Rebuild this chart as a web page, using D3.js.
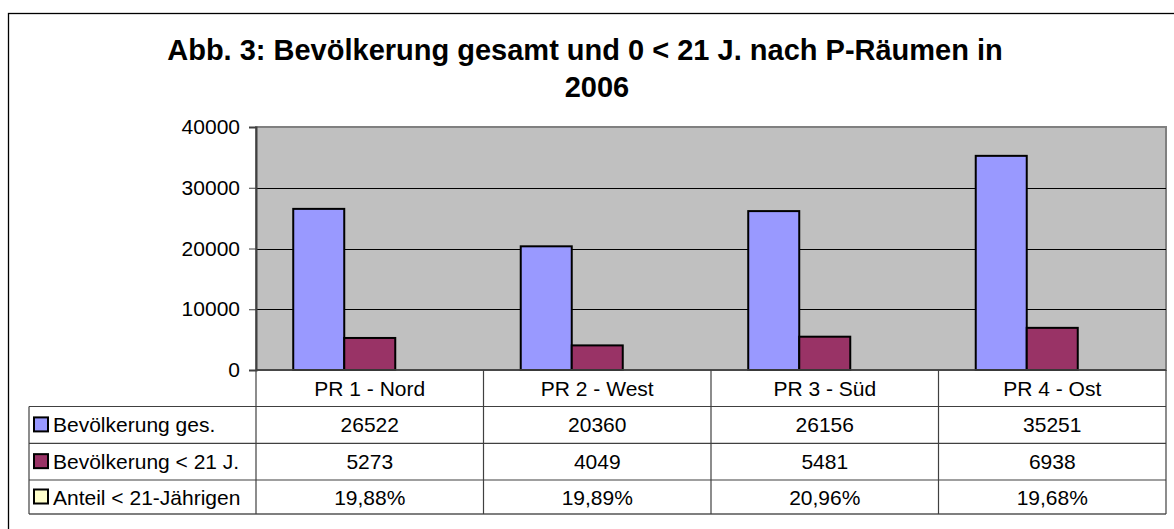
<!DOCTYPE html>
<html>
<head>
<meta charset="utf-8">
<script src="https://cdn.jsdelivr.net/npm/d3@7"></script>
<style>
  body { margin: 0; background: #fff; }
  text { font-family: "Liberation Sans", Arial, sans-serif; fill: #000; }
</style>
</head>
<body>
<div id="chart"></div>
<script>
// data
var categories = ["PR 1 - Nord", "PR 2 - West", "PR 3 - Süd", "PR 4 - Ost"];
var seriesNames = ["Bevölkerung ges.", "Bevölkerung < 21 J.", "Anteil < 21-Jährigen"];
var popTotal = [26522, 20360, 26156, 35251];
var popUnder21 = [5273, 4049, 5481, 6938];
var shareUnder21 = [0.1988, 0.1989, 0.2096, 0.1968];
var shareLabels = ["19,88%", "19,89%", "20,96%", "19,68%"];
var yTicks = [0, 10000, 20000, 30000, 40000];
var colors = ["#9999FF", "#993366", "#FFFFCC"];

var svgWidth = 1174;
var svgHeight = 529;

var plot = { left: 256, right: 1166, top: 127, bottom: 370 };
var tableLeft = 29;
var rowLines = [370, 406.5, 443.3, 480, 514];
var fontSize = "21px";

var svg = d3.select("#chart")
  .append("svg")
  .attr("width", svgWidth)
  .attr("height", svgHeight);

// outer chart frame (runs off the right and bottom)
svg.append("rect")
  .attr("x", 8.5).attr("y", 13.5)
  .attr("width", 1200).attr("height", 540)
  .attr("fill", "#fff")
  .attr("stroke", "#000")
  .attr("stroke-width", 1.3);

// title
svg.append("text")
  .attr("x", 585).attr("y", 60)
  .attr("text-anchor", "middle")
  .style("font-size", "29px").style("font-weight", "bold")
  .text("Abb. 3: Bevölkerung gesamt und 0 < 21 J. nach P-Räumen in");
svg.append("text")
  .attr("x", 597).attr("y", 97)
  .attr("text-anchor", "middle")
  .style("font-size", "29px").style("font-weight", "bold")
  .text("2006");

// scales
var x0 = d3.scaleBand()
  .domain(categories)
  .range([plot.left, plot.right])
  .padding(0);

var x1 = d3.scaleBand()
  .domain(seriesNames)
  .range([0, x0.bandwidth()])
  .paddingInner(0)
  .paddingOuter(0.73);

var y = d3.scaleLinear()
  .domain([0, 40000])
  .range([plot.bottom, plot.top]);

// plot area
svg.append("rect")
  .attr("x", plot.left).attr("y", plot.top)
  .attr("width", plot.right - plot.left)
  .attr("height", plot.bottom - plot.top)
  .attr("fill", "#C0C0C0")
  .attr("stroke", "#808080")
  .attr("stroke-width", 2);

// gridlines
svg.append("g")
  .selectAll("line")
  .data(yTicks.filter(d => d > 0 && d < 40000))
  .enter()
  .append("line")
  .attr("x1", plot.left).attr("x2", plot.right)
  .attr("y1", d => Math.round(y(d)) + 0.5)
  .attr("y2", d => Math.round(y(d)) + 0.5)
  .attr("stroke", "#000")
  .attr("stroke-width", 1);

// y axis
var leftAxis = d3.axisLeft(y)
  .tickValues(yTicks)
  .tickSize(7)
  .tickPadding(9)
  .tickFormat(d3.format("d"));

var yAxis = svg.append("g")
  .attr("transform", `translate(${plot.left}, 0)`)
  .call(leftAxis);
yAxis.select(".domain").attr("stroke", "#404040").attr("stroke-width", 2);
yAxis.selectAll(".tick line").attr("stroke", "#404040");
yAxis.selectAll(".tick text")
  .style("font-size", fontSize)
  .attr("fill", "#000")
  .style("font-family", "'Liberation Sans', Arial, sans-serif");

// bars
var seriesValues = [popTotal, popUnder21, shareUnder21];
var barData = [];
categories.forEach(function(c, i) {
  seriesNames.forEach(function(s, j) {
    barData.push({ cat: c, series: s, idx: j, value: seriesValues[j][i] });
  });
});

svg.append("g")
  .selectAll("rect")
  .data(barData.filter(d => d.idx < 2))
  .enter()
  .append("rect")
  .attr("x", d => x0(d.cat) + x1(d.series))
  .attr("y", d => y(d.value))
  .attr("width", x1.bandwidth())
  .attr("height", d => y(0) - y(d.value))
  .attr("fill", d => colors[d.idx])
  .attr("stroke", "#000")
  .attr("stroke-width", 2);

// baseline
svg.append("line")
  .attr("x1", plot.left).attr("x2", plot.right)
  .attr("y1", plot.bottom).attr("y2", plot.bottom)
  .attr("stroke", "#404040")
  .attr("stroke-width", 1.5);

// data table
var table = svg.append("g");

table.selectAll("line.row")
  .data(rowLines)
  .enter()
  .append("line")
  .attr("class", "row")
  .attr("x1", (d, i) => i === 0 ? plot.left : tableLeft)
  .attr("x2", plot.right)
  .attr("y1", d => d).attr("y2", d => d)
  .attr("stroke", (d, i) => i === rowLines.length - 1 ? "#000" : "#404040")
  .attr("stroke-width", 1.2);

var colEdges = categories.map(c => x0(c)).concat([plot.right]);
table.selectAll("line.col")
  .data(colEdges)
  .enter()
  .append("line")
  .attr("class", "col")
  .attr("x1", d => d).attr("x2", d => d)
  .attr("y1", plot.bottom).attr("y2", rowLines[rowLines.length - 1])
  .attr("stroke", "#404040")
  .attr("stroke-width", 1.2);

table.append("line")
  .attr("x1", tableLeft).attr("x2", tableLeft)
  .attr("y1", rowLines[1]).attr("y2", rowLines[4])
  .attr("stroke", "#404040")
  .attr("stroke-width", 1.2);

// category labels
table.selectAll("text.cat")
  .data(categories)
  .enter()
  .append("text")
  .attr("class", "cat")
  .attr("x", d => x0(d) + x0.bandwidth() / 2)
  .attr("y", (rowLines[0] + rowLines[1]) / 2 + 7.5)
  .attr("text-anchor", "middle")
  .style("font-size", fontSize)
  .text(d => d);

// row values
var rowTexts = [
  popTotal.map(String),
  popUnder21.map(String),
  shareLabels
];

rowTexts.forEach(function(vals, r) {
  var yMid = (rowLines[r + 1] + rowLines[r + 2]) / 2 + 7.5;
  table.append("g")
    .selectAll("text")
    .data(vals)
    .enter()
    .append("text")
    .attr("x", (d, i) => x0(categories[i]) + x0.bandwidth() / 2)
    .attr("y", yMid)
    .attr("text-anchor", "middle")
    .style("font-size", fontSize)
    .text(d => d);

  // legend key + series name
  table.append("rect")
    .attr("x", tableLeft + 5)
    .attr("y", yMid - 15)
    .attr("width", 14).attr("height", 14)
    .attr("fill", colors[r])
    .attr("stroke", "#000")
    .attr("stroke-width", 2);
  table.append("text")
    .attr("x", tableLeft + 24)
    .attr("y", yMid)
    .style("font-size", fontSize)
    .text(seriesNames[r]);
});
</script>
</body>
</html>
